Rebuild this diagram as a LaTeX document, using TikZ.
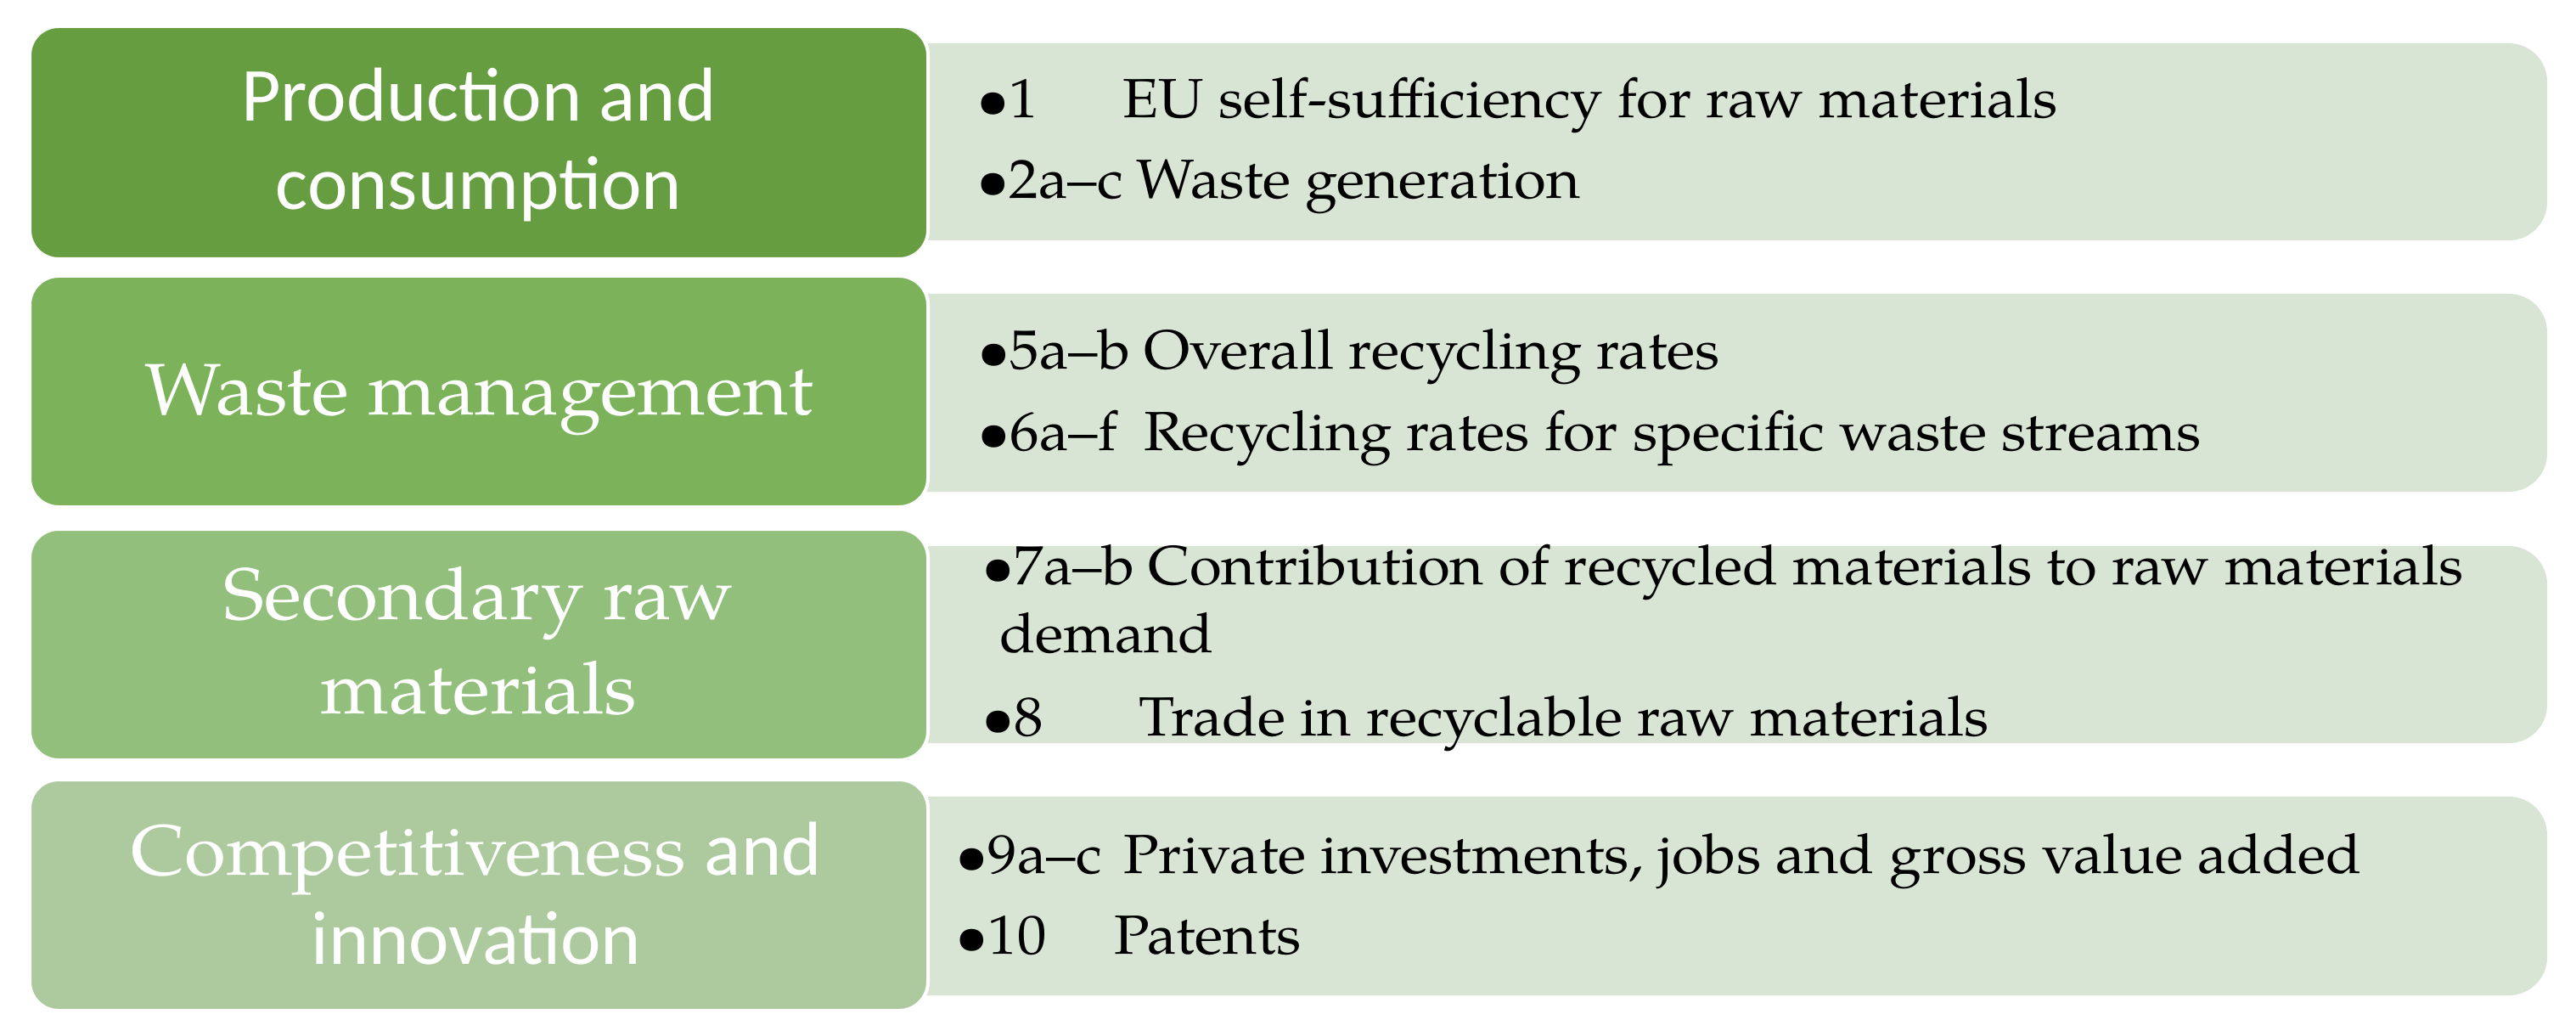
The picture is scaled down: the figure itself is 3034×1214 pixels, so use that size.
\documentclass[tikz,border=0pt]{standalone}
\usepackage{fontspec}
\setmainfont[FakeStretch=1.06]{TeX Gyre Pagella}
\newfontfamily\calfont{Carlito}
\definecolor{gA}{HTML}{669D41}
\definecolor{gB}{HTML}{7CB35A}
\definecolor{gC}{HTML}{92BF7C}
\definecolor{gD}{HTML}{ADCA9F}
\definecolor{gR}{HTML}{D9E5D4}
\newsavebox\bitembox
\newcommand\bitem[3]{\sbox\bitembox{\textbullet#2\hspace{16pt}}\ifdim\wd\bitembox<#1\makebox[#1][l]{\usebox\bitembox}\else\usebox\bitembox\fi#3}
\begin{document}
\begin{tikzpicture}[x=1pt,y=-1pt,
  catbox/.style={draw=white, line width=4pt, rounded corners=34pt, minimum width=1058pt, minimum height=272pt, inner sep=0pt},
  listbox/.style={fill=gR, rounded corners=45pt, minimum width=2000pt, minimum height=232pt, inner sep=0pt},
  sertext/.style={anchor=base, text=white, inner sep=0pt, font=\fontsize{86}{100}\selectfont},
  sanstext/.style={anchor=base, text=white, inner sep=0pt, font=\calfont\fontsize{90}{100}\selectfont},
  item/.style={anchor=base west, inner sep=0pt, font=\fontsize{65}{76}\selectfont}]
\useasboundingbox[fill=white] (0,0) rectangle (3034,1214);
% right list boxes
\node[listbox] (r1) at (2000,167) {};
\node[listbox, minimum height=233pt] (r2) at (2000,462.5) {};
\node[listbox] (r3) at (2000,759) {};
\node[listbox, minimum height=234pt] (r4) at (2000,1055) {};
% left category boxes
\node[catbox, fill=gA, minimum height=274pt] (l1) at (564,168) {};
\node[catbox, fill=gB] (l2) at (564,461) {};
\node[catbox, fill=gC] (l3) at (564,759) {};
\node[catbox, fill=gD] (l4) at (564,1054) {};
% category texts
\node[sanstext] (t1a) at (564,143) {Production and};
\node[sanstext] (t1b) at (564,247) {consumption};
\node[sertext] (t2a) at (564,488) {Waste management};
\node[sertext] (t3a) at (564,729) {Secondary raw};
\node[sertext] (t3b) at (564,840) {materials};
\node[sertext, font=\fontsize{84}{100}\selectfont] (t4a) at (561,1030) {Competitiveness {\calfont\fontsize{90}{100}\selectfont and}};
\node[sanstext] (t4b) at (561,1135) {innovation};
% list items
\node[item] (i1) at (1150,139) {\bitem{172pt}{1}{EU self-sufficiency for raw materials}};
\node[item] (i2) at (1150,234) {\bitem{183pt}{2a--c}{Waste generation}};
\node[item] (i5) at (1151,435) {\bitem{188pt}{5a--b}{Overall recycling rates}};
\node[item] (i6) at (1151,530) {\bitem{196pt}{6a--f}{Recycling rates for specific waste streams}};
\node[item] (i7) at (1156,688) {\bitem{183pt}{7a--b}{Contribution of recycled materials to raw materials}};
\node[item] (i7b) at (1177,768) {demand};
\node[item] (i8) at (1156,866) {\bitem{185pt}{8}{Trade in recyclable raw materials}};
\node[item] (i9) at (1125,1028) {\bitem{198pt}{9a--c}{Private investments, jobs and gross value added}};
\node[item] (i10) at (1125,1123) {\bitem{187pt}{10}{Patents}};
\end{tikzpicture}
\end{document}
